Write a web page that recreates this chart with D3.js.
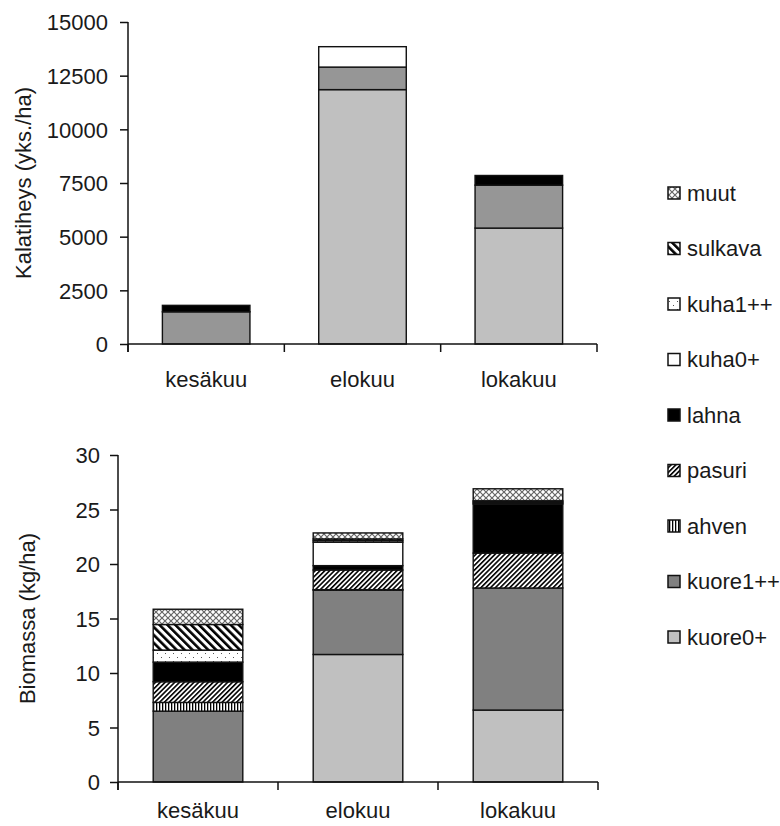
<!DOCTYPE html>
<html>
<head>
<meta charset="utf-8">
<script src="https://cdn.jsdelivr.net/npm/d3@7"></script>
<style>
  body { margin: 0; background: #fff; }
  svg text { font-family: "Liberation Sans", Arial, sans-serif; fill: #1a1a1a; }
</style>
</head>
<body>
<svg id="chart" width="780" height="826"></svg>
<script>
// ---- data ----
const months = ["kesäkuu", "elokuu", "lokakuu"];
const species = ["kuore0+", "kuore1++", "ahven", "pasuri", "lahna", "kuha0+", "kuha1++", "sulkava", "muut"];
// density (yks./ha) per species, one value per month
const dens_kuore0 = [0, 11850, 5400];
const dens_kuore1 = [1500, 1050, 2000];
const dens_ahven = [0, 0, 0];
const dens_pasuri = [0, 0, 0];
const dens_lahna = [300, 0, 450];
const dens_kuha0 = [0, 950, 0];
const dens_kuha1 = [0, 0, 0];
const dens_sulkava = [0, 0, 0];
const dens_muut = [0, 0, 0];
// biomass (kg/ha)
const bio_kuore0 = [0, 11.7, 6.6];
const bio_kuore1 = [6.5, 5.9, 11.2];
const bio_ahven = [0.8, 0.05, 0];
const bio_pasuri = [1.9, 1.8, 3.2];
const bio_lahna = [1.8, 0.4, 4.5];
const bio_kuha0 = [0, 2.15, 0.1];
const bio_kuha1 = [1.1, 0.15, 0.1];
const bio_sulkava = [2.35, 0.15, 0.1];
const bio_muut = [1.4, 0.55, 1.1];
const densTicks = [0, 2500, 5000, 7500, 10000, 12500, 15000];
const bioTicks = [0, 5, 10, 15, 20, 25, 30];

const densSeries = [dens_kuore0, dens_kuore1, dens_ahven, dens_pasuri, dens_lahna, dens_kuha0, dens_kuha1, dens_sulkava, dens_muut];
const bioSeries = [bio_kuore0, bio_kuore1, bio_ahven, bio_pasuri, bio_lahna, bio_kuha0, bio_kuha1, bio_sulkava, bio_muut];

const FS = 22;
const svg = d3.select("#chart");
const defs = svg.append("defs");

function stripes(id, size, thick, angle) {
  const p = defs.append("pattern").attr("id", id).attr("patternUnits", "userSpaceOnUse")
    .attr("width", size).attr("height", size).attr("patternTransform", `rotate(${angle})`);
  p.append("rect").attr("width", size).attr("height", size).attr("fill", "#fff");
  p.append("rect").attr("width", thick).attr("height", size).attr("fill", "#000");
}
stripes("p-pasuri", 3.4, 1.6, 45);
stripes("p-sulkava", 5.6, 2.6, -45);
stripes("p-ahven", 3, 1.3, 0);
(function () {
  const p = defs.append("pattern").attr("id", "p-muut").attr("patternUnits", "userSpaceOnUse")
    .attr("width", 6).attr("height", 6);
  p.append("rect").attr("width", 6).attr("height", 6).attr("fill", "#fff");
  p.append("path").attr("d", "M0,0L6,6M6,0L0,6").attr("stroke", "#666").attr("stroke-width", 1.2);
})();
(function () {
  const p = defs.append("pattern").attr("id", "p-kuha1").attr("patternUnits", "userSpaceOnUse")
    .attr("width", 8).attr("height", 8);
  p.append("rect").attr("width", 8).attr("height", 8).attr("fill", "#fff");
  p.append("rect").attr("x", 1).attr("y", 1).attr("width", 1).attr("height", 1).attr("fill", "#555");
  p.append("rect").attr("x", 5).attr("y", 5).attr("width", 1).attr("height", 1).attr("fill", "#555");
})();

const fillTop = {
  "kuore0+": "#c0c0c0", "kuore1++": "#969696", "ahven": "url(#p-ahven)", "pasuri": "url(#p-pasuri)",
  "lahna": "#000", "kuha0+": "#fff", "kuha1++": "url(#p-kuha1)", "sulkava": "url(#p-sulkava)", "muut": "url(#p-muut)"
};
const fillBottom = Object.assign({}, fillTop, { "kuore1++": "#808080" });

function rows(series) {
  return months.map((m, i) => {
    const r = { month: m };
    species.forEach((s, j) => r[s] = series[j][i]);
    return r;
  });
}

function drawChart(cfg) {
  const { series, ticks, x0, x1, yTop, yBottom, fills, title, titleX, labelRight, labelY } = cfg;
  const g = svg.append("g");
  const x = d3.scaleBand().domain(months).range([x0, x1]).paddingInner(0.44).paddingOuter(0.22);
  const y = d3.scaleLinear().domain([ticks[0], ticks[ticks.length - 1]]).range([yBottom, yTop]);
  const stack = d3.stack().keys(species)(rows(series));

  stack.forEach(layer => {
    const key = layer.key;
    g.append("g").selectAll("rect").data(layer.filter(d => d[1] - d[0] > 0)).join("rect")
      .attr("x", d => x(d.data.month))
      .attr("width", x.bandwidth())
      .attr("y", d => y(d[1]))
      .attr("height", d => y(d[0]) - y(d[1]))
      .attr("fill", fills[key])
      .attr("stroke", "#111")
      .attr("stroke-width", 1.4);
  });

  const ya = d3.axisLeft(y).tickValues(ticks).tickSize(8).tickSizeOuter(0)
    .tickFormat(d3.format("d"));
  const yg = g.append("g").attr("transform", `translate(${x0},0)`).call(ya);
  yg.select(".domain").remove();
  yg.selectAll("line").attr("stroke", "#111").attr("stroke-width", 1.5);
  yg.selectAll("text").attr("font-size", FS).attr("x", labelRight - x0)
    .attr("text-anchor", "end").attr("dy", "0.35em").attr("fill", "#1a1a1a");
  g.append("line").attr("x1", x0).attr("x2", x0).attr("y1", y(ticks[ticks.length - 1])).attr("y2", y(0) + 8)
    .attr("stroke", "#111").attr("stroke-width", 1.5);

  g.append("line").attr("x1", x0).attr("x2", x1).attr("y1", y(0)).attr("y2", y(0))
    .attr("stroke", "#111").attr("stroke-width", 1.5);
  const bounds = d3.range(months.length + 1).map(i => x0 + i * x.step());
  g.append("g").selectAll("line").data(bounds).join("line")
    .attr("x1", d => d).attr("x2", d => d).attr("y1", y(0)).attr("y2", y(0) + 8)
    .attr("stroke", "#111").attr("stroke-width", 1.5);
  g.append("g").selectAll("text").data(months).join("text")
    .attr("x", d => x(d) + x.bandwidth() / 2).attr("y", labelY)
    .attr("text-anchor", "middle").attr("font-size", FS).text(d => d);

  const cy = (y(0) + y(ticks[ticks.length - 1])) / 2;
  g.append("text").attr("transform", `translate(${titleX},${cy}) rotate(-90)`)
    .attr("text-anchor", "middle").attr("font-size", FS).text(title);
}

drawChart({ series: densSeries, ticks: densTicks, x0: 128, x1: 597, yTop: 22, yBottom: 344,
  fills: fillTop, title: "Kalatiheys (yks./ha)", titleX: 31, labelRight: 108, labelY: 387 });
drawChart({ series: bioSeries, ticks: bioTicks, x0: 118, x1: 598, yTop: 455, yBottom: 782,
  fills: fillBottom, title: "Biomassa (kg/ha)", titleX: 35, labelRight: 100, labelY: 818 });

const lg = svg.append("g");
const legendOrder = species.slice().reverse();
const ly = d3.scalePoint().domain(legendOrder).range([193, 637]);
legendOrder.forEach(s => {
  lg.append("rect").attr("x", 668).attr("y", ly(s) - 6).attr("width", 12).attr("height", 12)
    .attr("fill", fillBottom[s]).attr("stroke", "#111").attr("stroke-width", 1.5);
  lg.append("text").attr("x", 687).attr("y", ly(s)).attr("dy", "0.35em").attr("font-size", FS).text(s);
});
</script>
</body>
</html>
